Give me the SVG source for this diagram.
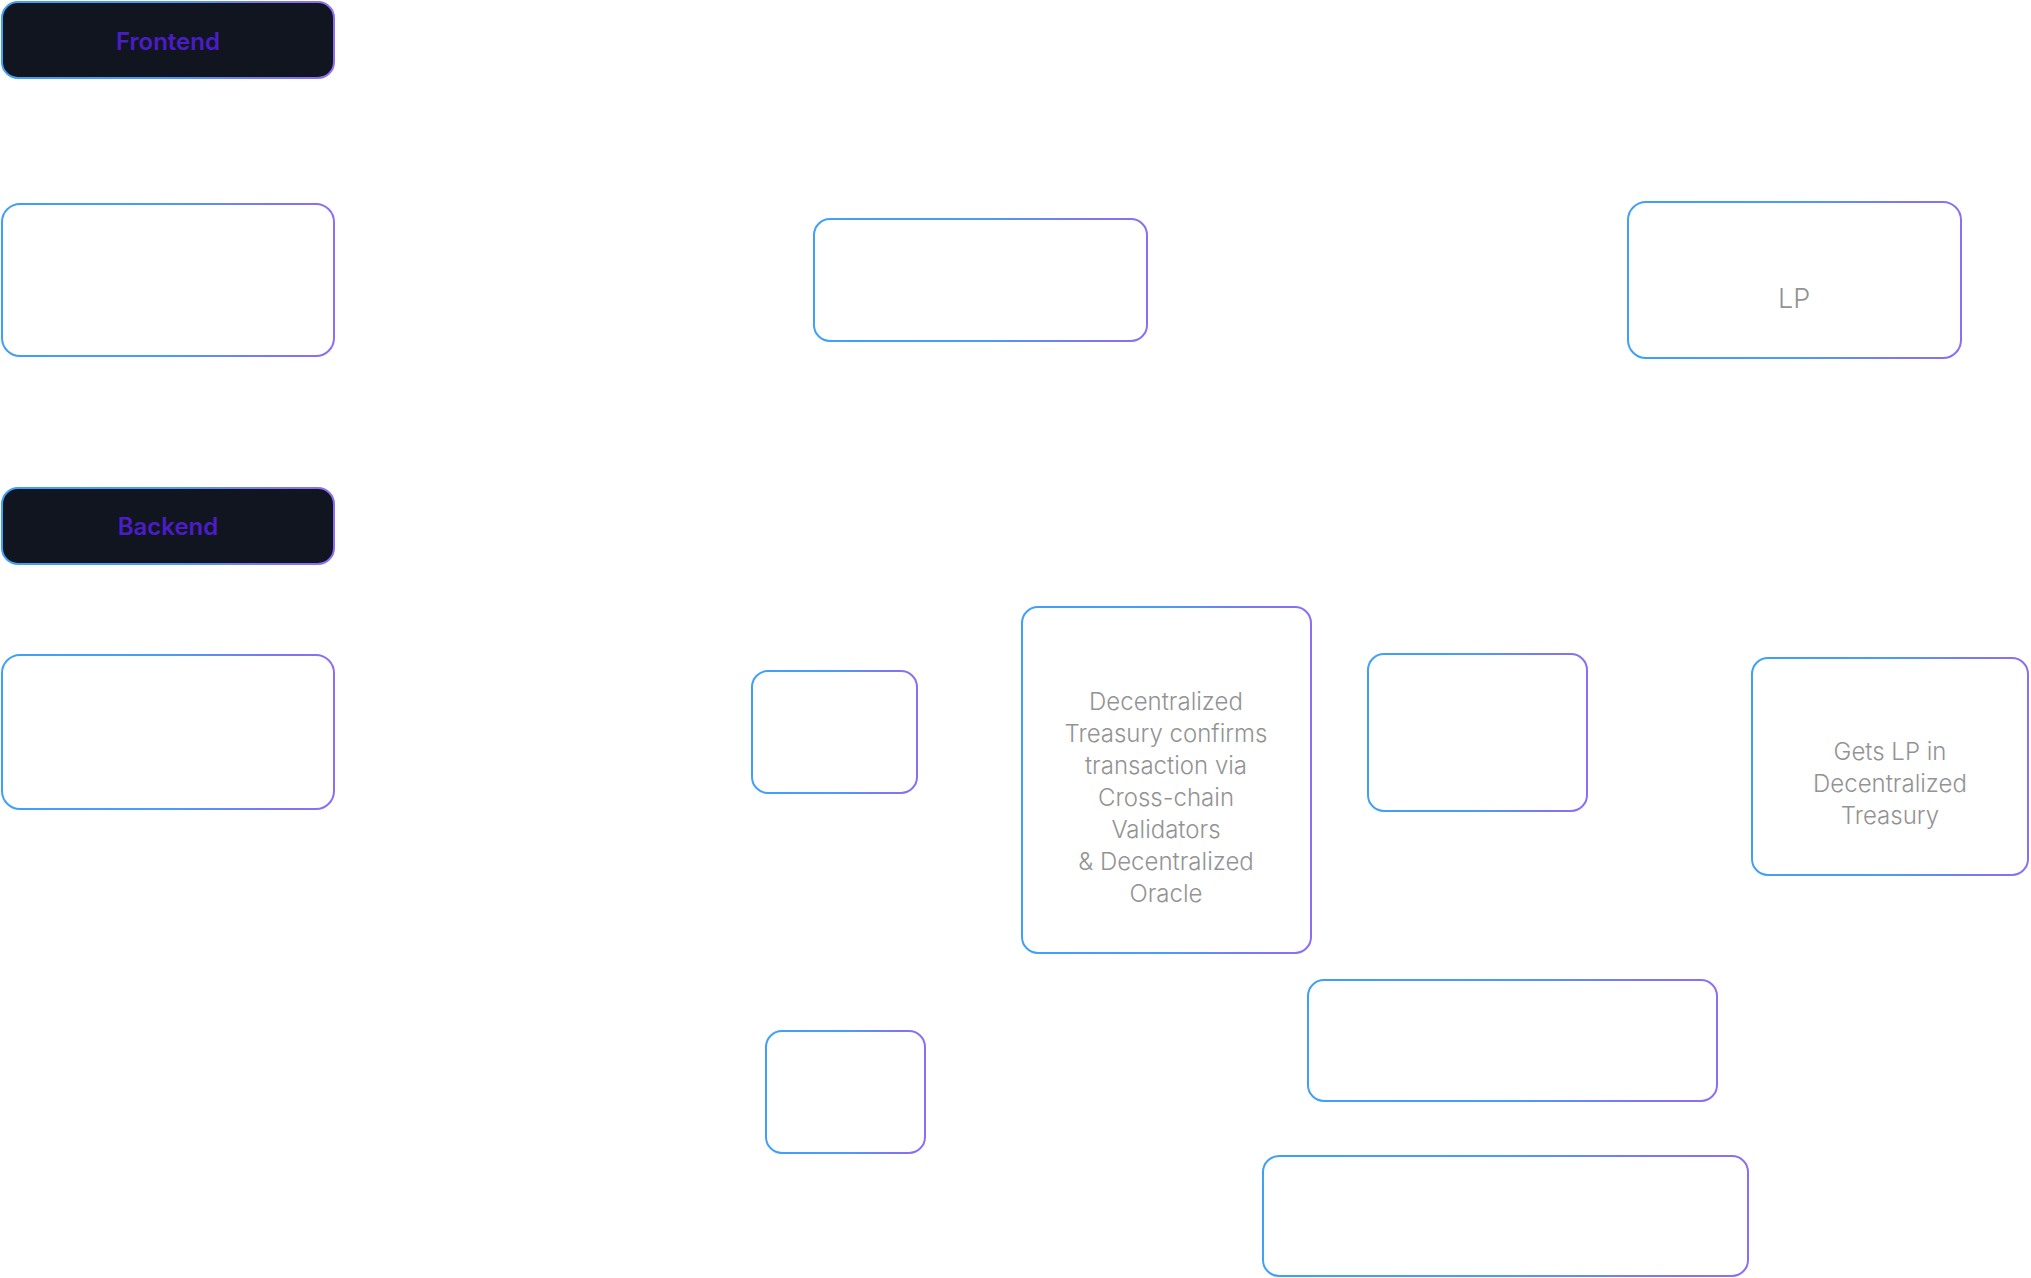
<svg xmlns="http://www.w3.org/2000/svg" width="2031" height="1278" viewBox="0 0 2031 1278">
  <defs>
    <linearGradient id="edge" x1="0" y1="0" x2="1" y2="0">
      <stop offset="0" stop-color="#3fa0f8"/>
      <stop offset="0.5" stop-color="#4a9cf7"/>
      <stop offset="0.8" stop-color="#7a78f3"/>
      <stop offset="1" stop-color="#8c6ef4"/>
    </linearGradient>
  </defs>
  <style>
    .box { fill: #ffffff; stroke: url(#edge); stroke-width: 2; }
    .head { fill: #111520; stroke: url(#edge); stroke-width: 2; }
    .headtxt { font-family: Inter, "Liberation Sans", sans-serif; font-size: 24px; font-weight: 600; fill: #4b1dc6; text-anchor: middle; }
    .txt { font-family: Inter, "Liberation Sans", sans-serif; font-size: 24px; font-weight: 300; fill: #939393; text-anchor: middle; }
    .big { font-size: 27px; }
  </style>
  <rect width="2031" height="1278" fill="#ffffff"/>
  <g id="connectors"></g>

  <g id="frontend">
    <rect class="head" x="2" y="2" width="332" height="76" rx="16"/>
    <text class="headtxt" x="168" y="50">Frontend</text>
  </g>
  <g id="node-a">
    <rect class="box" x="2" y="204" width="332" height="152" rx="18"/>
  </g>
  <g id="node-b">
    <rect class="box" x="814" y="219" width="333" height="122" rx="16"/>
  </g>
  <g id="node-lp">
    <rect class="box" x="1628" y="202" width="333" height="156" rx="18"/>
    <text class="txt big" x="1794" y="308">LP</text>
  </g>

  <g id="backend">
    <rect class="head" x="2" y="488" width="332" height="76" rx="16"/>
    <text class="headtxt" x="168" y="535">Backend</text>
  </g>
  <g id="node-c">
    <rect class="box" x="2" y="655" width="332" height="154" rx="18"/>
  </g>
  <g id="node-d">
    <rect class="box" x="752" y="671" width="165" height="122" rx="16"/>
  </g>
  <g id="node-treasury">
    <rect class="box" x="1022" y="607" width="289" height="346" rx="16"/>
    <text class="txt" x="1166" y="710">Decentralized</text>
    <text class="txt" x="1166" y="742">Treasury confirms</text>
    <text class="txt" x="1166" y="774">transaction via</text>
    <text class="txt" x="1166" y="806">Cross-chain</text>
    <text class="txt" x="1166" y="838">Validators</text>
    <text class="txt" x="1166" y="870">&amp; Decentralized</text>
    <text class="txt" x="1166" y="902">Oracle</text>
  </g>
  <g id="node-e">
    <rect class="box" x="1368" y="654" width="219" height="157" rx="16"/>
  </g>
  <g id="node-getslp">
    <rect class="box" x="1752" y="658" width="276" height="217" rx="16"/>
    <text class="txt" x="1890" y="760">Gets LP in</text>
    <text class="txt" x="1890" y="792">Decentralized</text>
    <text class="txt" x="1890" y="824">Treasury</text>
  </g>
  <g id="node-f">
    <rect class="box" x="766" y="1031" width="159" height="122" rx="16"/>
  </g>
  <g id="node-g">
    <rect class="box" x="1308" y="980" width="409" height="121" rx="16"/>
  </g>
  <g id="node-h">
    <rect class="box" x="1263" y="1156" width="485" height="120" rx="16"/>
  </g>
</svg>
